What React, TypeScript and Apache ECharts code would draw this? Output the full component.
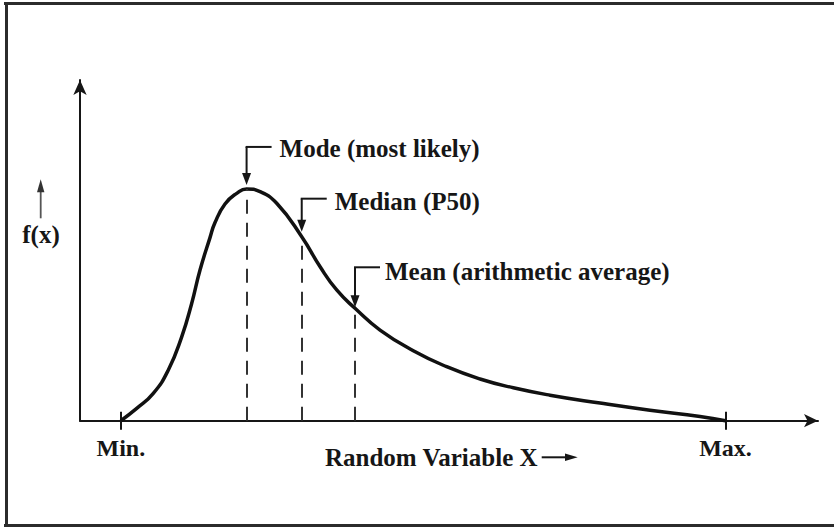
import React, { useEffect, useRef } from "react";
import * as echarts from "echarts";

// Curve of the density f(x): Min = 0, Max = 100 on the x scale, mode height = 10
const curveX = [0, 2.63, 5.37, 7.86, 10.07, 11.72, 13.1, 14.75, 15.58, 17.23, 19.17, 20.8, 23.02, 25.78, 29.92, 32.96, 35.7, 38.73, 42.87, 48.37, 53.89, 59.4, 64.91, 70.98, 79.25, 87.52, 95.79, 100];
const curveY = [0, 0.53, 1.18, 2.19, 3.62, 5.06, 6.5, 7.9, 8.55, 9.35, 9.81, 10.0, 9.88, 9.38, 7.94, 6.64, 5.64, 4.85, 3.91, 3.02, 2.33, 1.8, 1.42, 1.1, 0.76, 0.45, 0.18, 0];

// Markers: mode, median, mean
const markerNames = ["Mode (most likely)", "Median (P50)", "Mean (arithmetic average)"];
const markerX = [20.8, 29.92, 38.73];
const markerY = [10.0, 7.94, 4.85];

// Axis tick labels
const tickValues = [0, 100];
const tickLabels = ["Min.", "Max."];

const xAxisTitle = "Random Variable X";
const yAxisTitle = "f(x)";

const X_MIN = -6.75;
const X_MAX = 115.3;
const Y_MAX = 14.7;

const FONT = "Liberation Serif";
const INK = "#161616";

// layout of annotation callouts (pixels)
const rise = [42, 38, 41];
const gap = [4, 5, 1];
const textDx = [33, 33, 30];
const textDy = [1.5, 2.5, 4];

export default function App() {
  const ref = useRef<HTMLDivElement>(null);

  useEffect(() => {
    if (!ref.current) return;
    const chart = echarts.init(ref.current, undefined, { renderer: "svg" });

    const labelFor = (v: number) => {
      const i = tickValues.indexOf(Math.round(v));
      return i >= 0 ? tickLabels[i] : "";
    };

    chart.setOption({
      animation: false,
      backgroundColor: "#ffffff",
      grid: { left: 80, right: 16, top: 80, bottom: 106.3, containLabel: false },
      xAxis: [
        {
          type: "value",
          min: X_MIN,
          max: X_MAX,
          position: "bottom",
          axisLine: {
            show: true,
            onZero: false,
            symbol: ["none", "arrow"],
            symbolSize: [10, 14],
            lineStyle: { color: INK, width: 2 },
          },
          axisTick: {
            show: true,
            customValues: tickValues,
            length: 9,
            lineStyle: { color: INK, width: 2 },
          },
          axisLabel: {
            show: true,
            customValues: tickValues,
            formatter: (v: number) => labelFor(v),
            margin: 27.7,
            verticalAlign: "middle",
            fontFamily: FONT,
            fontWeight: "bold",
            fontSize: 24,
            color: INK,
          },
          splitLine: { show: false },
        },
        {
          type: "value",
          min: X_MIN,
          max: X_MAX,
          position: "bottom",
          axisLine: { show: false, onZero: false },
          axisTick: {
            show: true,
            inside: true,
            customValues: tickValues,
            length: 9,
            lineStyle: { color: INK, width: 2 },
          },
          axisLabel: { show: false },
          splitLine: { show: false },
        },
      ],
      yAxis: {
        type: "value",
        min: 0,
        max: Y_MAX,
        axisLine: {
          show: true,
          onZero: false,
          symbol: ["none", "arrow"],
          symbolSize: [10, 15],
          lineStyle: { color: INK, width: 2 },
        },
        axisTick: { show: false },
        axisLabel: { show: false },
        splitLine: { show: false },
      },
      series: [
        {
          type: "line",
          xAxisIndex: 0,
          yAxisIndex: 0,
          data: curveX.map((x, i) => [x, curveY[i]]),
          showSymbol: false,
          symbol: "none",
          smooth: 0.5,
          clip: false,
          lineStyle: { color: "#111111", width: 3.5 },
          markLine: {
            silent: true,
            symbol: ["none", "none"],
            label: { show: false },
            lineStyle: { type: [14, 9], color: "#333333", width: 2 },
            data: markerX.map((x, i) => [{ coord: [x, 0] }, { coord: [x, markerY[i]] }]),
          },
        },
      ],
    });

    const els: any[] = [];
    const border = "#2b2b2b";
    els.push({ type: "line", silent: true, shape: { x1: 4, y1: 3.5, x2: 834, y2: 3.5 }, style: { stroke: border, lineWidth: 3 } });
    els.push({ type: "line", silent: true, shape: { x1: 6.5, y1: 2, x2: 6.5, y2: 527 }, style: { stroke: border, lineWidth: 3 } });
    els.push({ type: "line", silent: true, shape: { x1: 4, y1: 525.5, x2: 834, y2: 525.5 }, style: { stroke: border, lineWidth: 3 } });

    const textStyle = (text: string, align: string) => ({
      text,
      fontFamily: FONT,
      fontWeight: "bold",
      fontSize: 25,
      fill: INK,
      align,
      verticalAlign: "middle",
    });

    markerX.forEach((x, i) => {
      const p = chart.convertToPixel({ seriesIndex: 0 } as any, [x, markerY[i]]) as number[];
      const px = p[0];
      const py = p[1];
      const tipY = py - gap[i];
      const by = py - rise[i];
      els.push({ type: "line", silent: true, shape: { x1: px - 1, y1: by, x2: px + 25, y2: by }, style: { stroke: INK, lineWidth: 2 } });
      els.push({ type: "line", silent: true, shape: { x1: px, y1: by, x2: px, y2: tipY - 10 }, style: { stroke: INK, lineWidth: 2 } });
      els.push({
        type: "polygon",
        silent: true,
        shape: { points: [[px - 4.5, tipY - 12], [px + 4.5, tipY - 12], [px, tipY]] },
        style: { fill: INK },
      });
      els.push({
        type: "text",
        silent: true,
        x: px + textDx[i],
        y: by + textDy[i],
        style: textStyle(markerNames[i], "left"),
      });
    });

    // x-axis title with arrow
    els.push({ type: "text", silent: true, x: 325, y: 457.7, style: textStyle(xAxisTitle, "left") });
    els.push({ type: "line", silent: true, shape: { x1: 541.7, y1: 457.3, x2: 567, y2: 457.3 }, style: { stroke: INK, lineWidth: 2 } });
    els.push({ type: "polygon", silent: true, shape: { points: [[565, 453.5], [565, 461.1], [577.7, 457.3]] }, style: { fill: INK } });

    // y-axis title with arrow
    els.push({ type: "text", silent: true, x: 41, y: 234.7, style: textStyle(yAxisTitle, "center") });
    els.push({ type: "line", silent: true, shape: { x1: 40.7, y1: 218.3, x2: 40.7, y2: 190 }, style: { stroke: "#555555", lineWidth: 1.8 } });
    els.push({ type: "polygon", silent: true, shape: { points: [[37, 192.3], [44.4, 192.3], [40.7, 179.3]] }, style: { fill: "#333333" } });

    chart.setOption({ graphic: els });

    return () => chart.dispose();
  }, []);

  return (
    <div
      ref={ref}
      style={{ position: "absolute", left: 0, top: 0, width: 834, height: 527, background: "#ffffff" }}
    />
  );
}
